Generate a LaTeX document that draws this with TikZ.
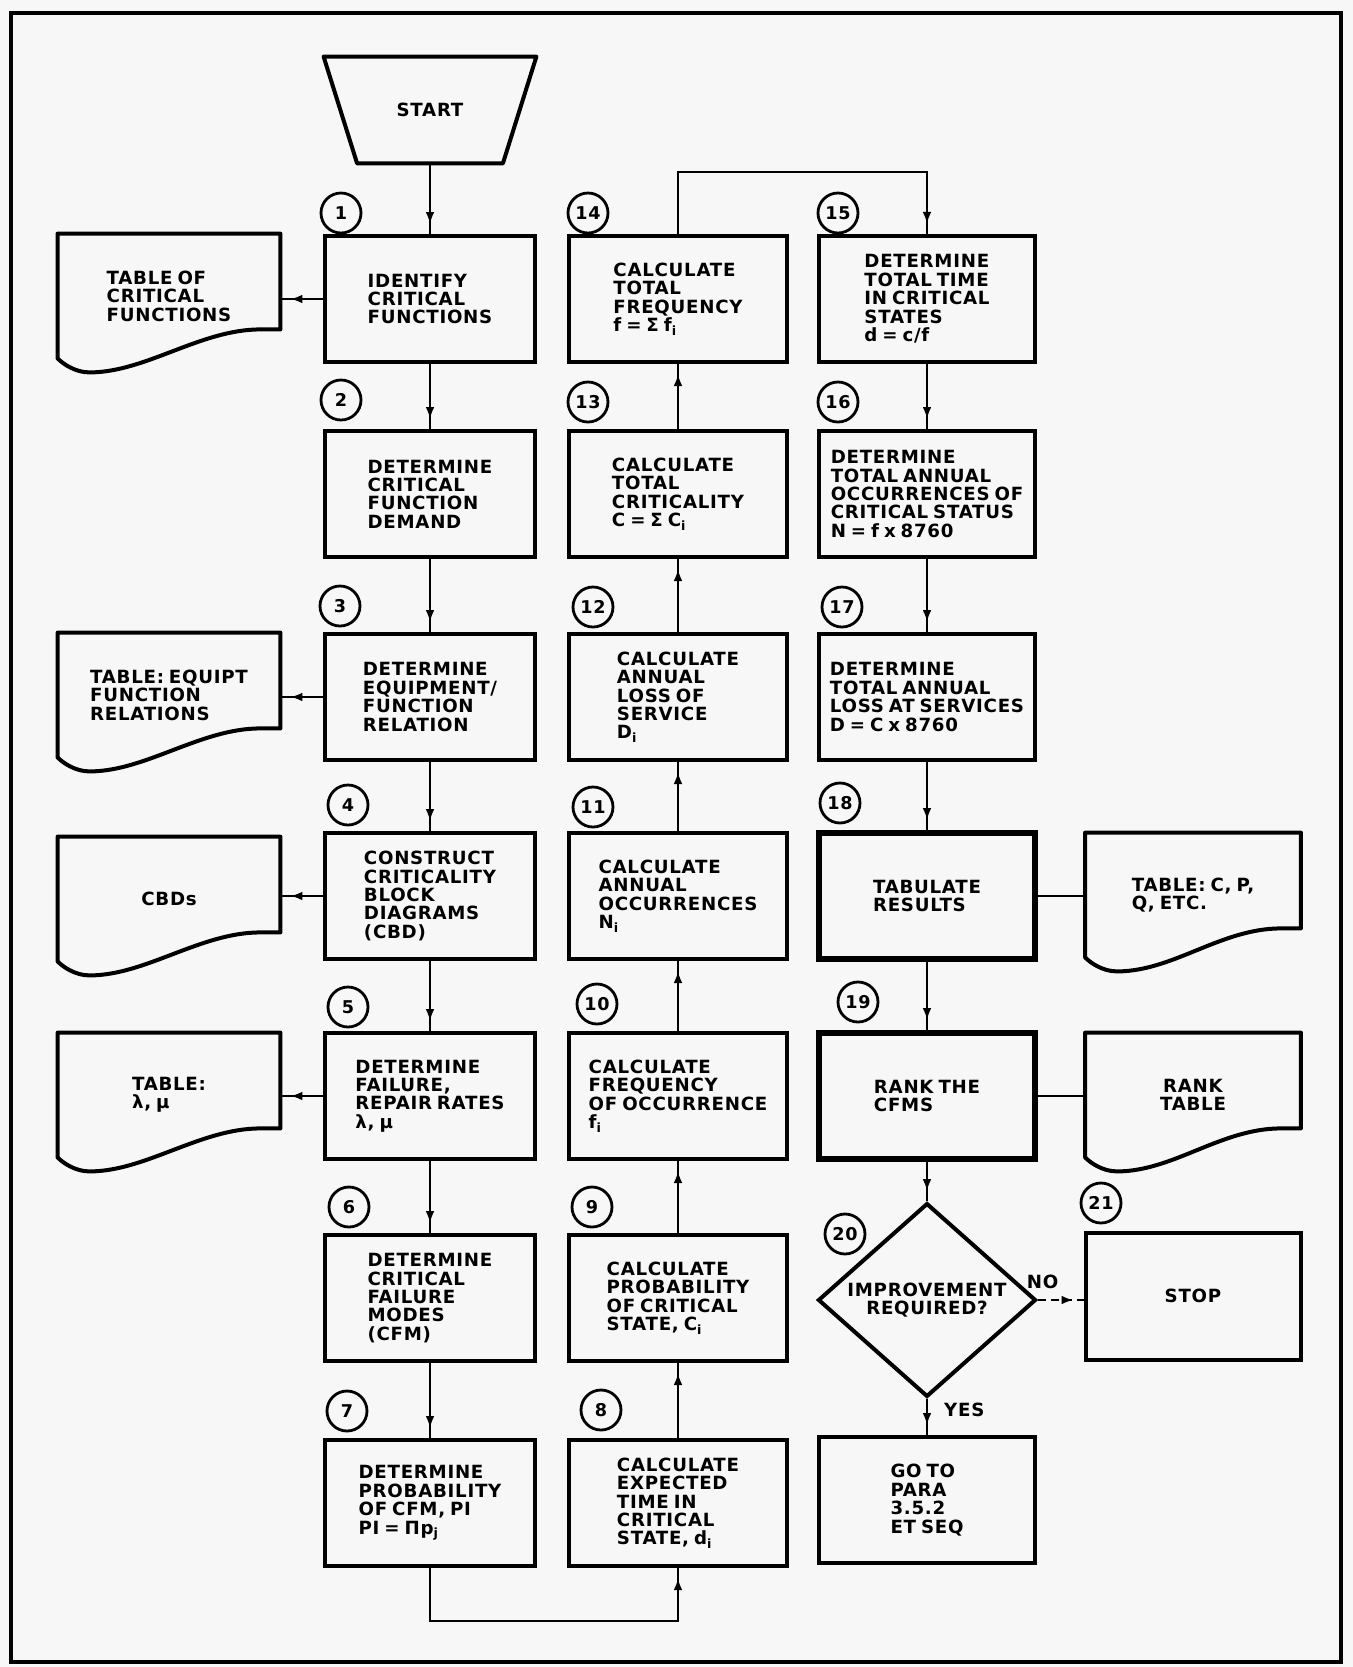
\documentclass[tikz,border=0pt]{standalone}
\usepackage{fontspec}
\setmainfont{DejaVu Sans}[LetterSpace=4,WordSpace=0.7]
\usetikzlibrary{shapes.geometric,arrows.meta,decorations.markings}
\newcommand\flowfont{\bfseries\fontsize{9.1}{9.2}\selectfont}
\newcommand\numfont{\bfseries\fontsize{8.8}{8.8}\selectfont}
\newcommand\docpath[1]{(#1.north west) -- (#1.north east) -- ([yshift=14.5pt]#1.south east) -- ([xshift=-10pt,yshift=14.5pt]#1.south east) .. controls +(-30pt,0) and +(28pt,0) .. ([xshift=16pt,yshift=-7pt]#1.south west) .. controls +(-7pt,0) and +(3pt,-3pt) .. (#1.south west) -- cycle}
\begin{document}
\begin{tikzpicture}[x=0.5pt,y=-0.5pt,
 every node/.style={font=\flowfont, inner sep=0pt},
 box/.style={draw, line width=2pt, minimum height=63pt, align=left},
 bA/.style={box, minimum width=105pt},
 bB/.style={box, minimum width=109pt},
 bC/.style={box, minimum width=108pt},
 heavy/.style={line width=3pt},
 doc/.style={minimum width=111pt, minimum height=62pt, align=left},
 docR/.style={minimum width=107.5pt, minimum height=62pt, align=left},
 docline/.style={line width=2pt, line join=round},
 num/.style={circle, draw, line width=1.4pt, minimum size=20pt, font=\numfont},
 link/.style={line width=1.2pt},
 arr/.style={link, postaction={decorate}, decoration={markings, mark=at position -5pt with {\arrow{Latex[length=6pt,width=4.4pt]}}}},
]
\useasboundingbox[fill=black!3] (0,0) rectangle (1353,1667);
\draw[line width=2pt] (11,13) rectangle (1341,1662);

% start
\node[minimum width=106pt, minimum height=53pt] (start) at (430,110) {START};
\draw[docline] (start.north west) -- (start.north east) -- ([xshift=-16.75pt]start.south east) -- ([xshift=16.75pt]start.south west) -- cycle;

% column 1
\node[bA] (b1) at (430,299) {IDENTIFY\\CRITICAL\\FUNCTIONS};
\node[bA] (b2) at (430,494) {DETERMINE\\CRITICAL\\FUNCTION\\DEMAND};
\node[bA] (b3) at (430,697) {DETERMINE\\EQUIPMENT/\\FUNCTION\\RELATION};
\node[bA] (b4) at (430,896) {CONSTRUCT\\CRITICALITY\\BLOCK\\DIAGRAMS\\(CBD)};
\node[bA] (b5) at (430,1096) {DETERMINE\\FAILURE,\\REPAIR RATES\\λ, μ};
\node[bA] (b6) at (430,1298) {DETERMINE\\CRITICAL\\FAILURE\\MODES\\(CFM)};
\node[bA] (b7) at (430,1503) {DETERMINE\\PROBABILITY\\OF CFM, PI\\PI = Πp\textsubscript{j}};

% column 2
\node[bB] (b14) at (678,299) {CALCULATE\\TOTAL\\FREQUENCY\\f = Σ f\textsubscript{i}};
\node[bB] (b13) at (678,494) {CALCULATE\\TOTAL\\CRITICALITY\\C = Σ C\textsubscript{i}};
\node[bB] (b12) at (678,697) {CALCULATE\\ANNUAL\\LOSS OF\\SERVICE\\D\textsubscript{i}};
\node[bB] (b11) at (678,896) {CALCULATE\\ANNUAL\\OCCURRENCES\\N\textsubscript{i}};
\node[bB] (b10) at (678,1096) {CALCULATE\\FREQUENCY\\OF OCCURRENCE\\f\textsubscript{i}};
\node[bB] (b9) at (678,1298) {CALCULATE\\PROBABILITY\\OF CRITICAL\\STATE, C\textsubscript{i}};
\node[bB] (b8) at (678,1503) {CALCULATE\\EXPECTED\\TIME IN\\CRITICAL\\STATE, d\textsubscript{i}};

% column 3
\node[bC] (b15) at (927,299) {DETERMINE\\TOTAL TIME\\IN CRITICAL\\STATES\\d = c/f};
\node[bC] (b16) at (927,494) {DETERMINE\\TOTAL ANNUAL\\OCCURRENCES OF\\CRITICAL STATUS\\N = f x 8760};
\node[bC] (b17) at (927,697) {DETERMINE\\TOTAL ANNUAL\\LOSS AT SERVICES\\D = C x 8760};
\node[bC, heavy] (b18) at (927,896) {TABULATE\\RESULTS};
\node[bC, heavy] (b19) at (927,1096) {RANK THE\\CFMS};
\node[diamond, draw, line width=2pt, minimum width=109pt, minimum height=72pt, align=center] (dia) at (927,1300) {IMPROVEMENT\\REQUIRED?};
\node[bC] (goto) at (927,1500) {GO TO\\PARA\\3.5.2\\ET SEQ};
\node[box, minimum width=107.5pt, minimum height=63.5pt] (stop) at (1193,1296) {STOP};

% documents
\node[doc] (d1) at (169,296) {TABLE OF\\CRITICAL\\FUNCTIONS};
\node[doc] (d3) at (169,695) {TABLE: EQUIPT\\FUNCTION\\RELATIONS};
\node[doc] (d4) at (169,899) {CBDs};
\node[doc] (d5) at (169,1095) {TABLE:\\λ, μ};
\node[docR] (d18) at (1193,895) {TABLE: C, P,\\Q, ETC.};
\node[docR, align=center] (d19) at (1193,1095) {RANK\\TABLE};
\foreach \d in {d1,d3,d4,d5,d18,d19} \draw[docline] \docpath{\d};

% step numbers
\node[num] (n1) at (341,213) {1};
\node[num] (n2) at (341,400) {2};
\node[num] (n3) at (340,606) {3};
\node[num] (n4) at (348,805) {4};
\node[num] (n5) at (348,1007) {5};
\node[num] (n6) at (349,1207) {6};
\node[num] (n7) at (347,1411) {7};
\node[num] (n8) at (601,1410) {8};
\node[num] (n9) at (592,1207) {9};
\node[num] (n10) at (597,1004) {10};
\node[num] (n11) at (593,807) {11};
\node[num] (n12) at (593,607) {12};
\node[num] (n13) at (588,402) {13};
\node[num] (n14) at (588,213) {14};
\node[num] (n15) at (838,213) {15};
\node[num] (n16) at (838,402) {16};
\node[num] (n17) at (842,607) {17};
\node[num] (n18) at (840,803) {18};
\node[num] (n19) at (858,1002) {19};
\node[num] (n20) at (845,1234) {20};
\node[num] (n21) at (1101,1203) {21};

% connectors
\coordinate (top1415) at (678,172);
\coordinate (bot78) at (430,1621);
\draw[arr] (start.south) -- (b1.north);
\draw[arr] (b1.south) -- (b2.north);
\draw[arr] (b2.south) -- (b3.north);
\draw[arr] (b3.south) -- (b4.north);
\draw[arr] (b4.south) -- (b5.north);
\draw[arr] (b5.south) -- (b6.north);
\draw[arr] (b6.south) -- (b7.north);
\draw[arr] (b7.south) |- (bot78) -| (b8.south);
\draw[arr] (b8.north) -- (b9.south);
\draw[arr] (b9.north) -- (b10.south);
\draw[arr] (b10.north) -- (b11.south);
\draw[arr] (b11.north) -- (b12.south);
\draw[arr] (b12.north) -- (b13.south);
\draw[arr] (b13.north) -- (b14.south);
\draw[arr] (b14.north) |- (top1415) -| (b15.north);
\draw[arr] (b15.south) -- (b16.north);
\draw[arr] (b16.south) -- (b17.north);
\draw[arr] (b17.south) -- (b18.north);
\draw[arr] (b18.south) -- (b19.north);
\draw[arr] (b19.south) -- (dia.north);
\draw[arr] (dia.south) -- (goto.north) node[pos=0.3, anchor=west, xshift=8pt] {YES};
\draw[arr, dash pattern=on 4pt off 2.5pt] (dia.east) -- (dia.east -| stop.west) node[pos=0.1, above=5pt] {NO};
\draw[arr] (b1.west) -- (b1.west -| d1.east);
\draw[arr] (b3.west) -- (b3.west -| d3.east);
\draw[arr] (b4.west) -- (b4.west -| d4.east);
\draw[arr] (b5.west) -- (b5.west -| d5.east);
\draw[link] (b18.east) -- (b18.east -| d18.west);
\draw[link] (b19.east) -- (b19.east -| d19.west);
\end{tikzpicture}
\end{document}
